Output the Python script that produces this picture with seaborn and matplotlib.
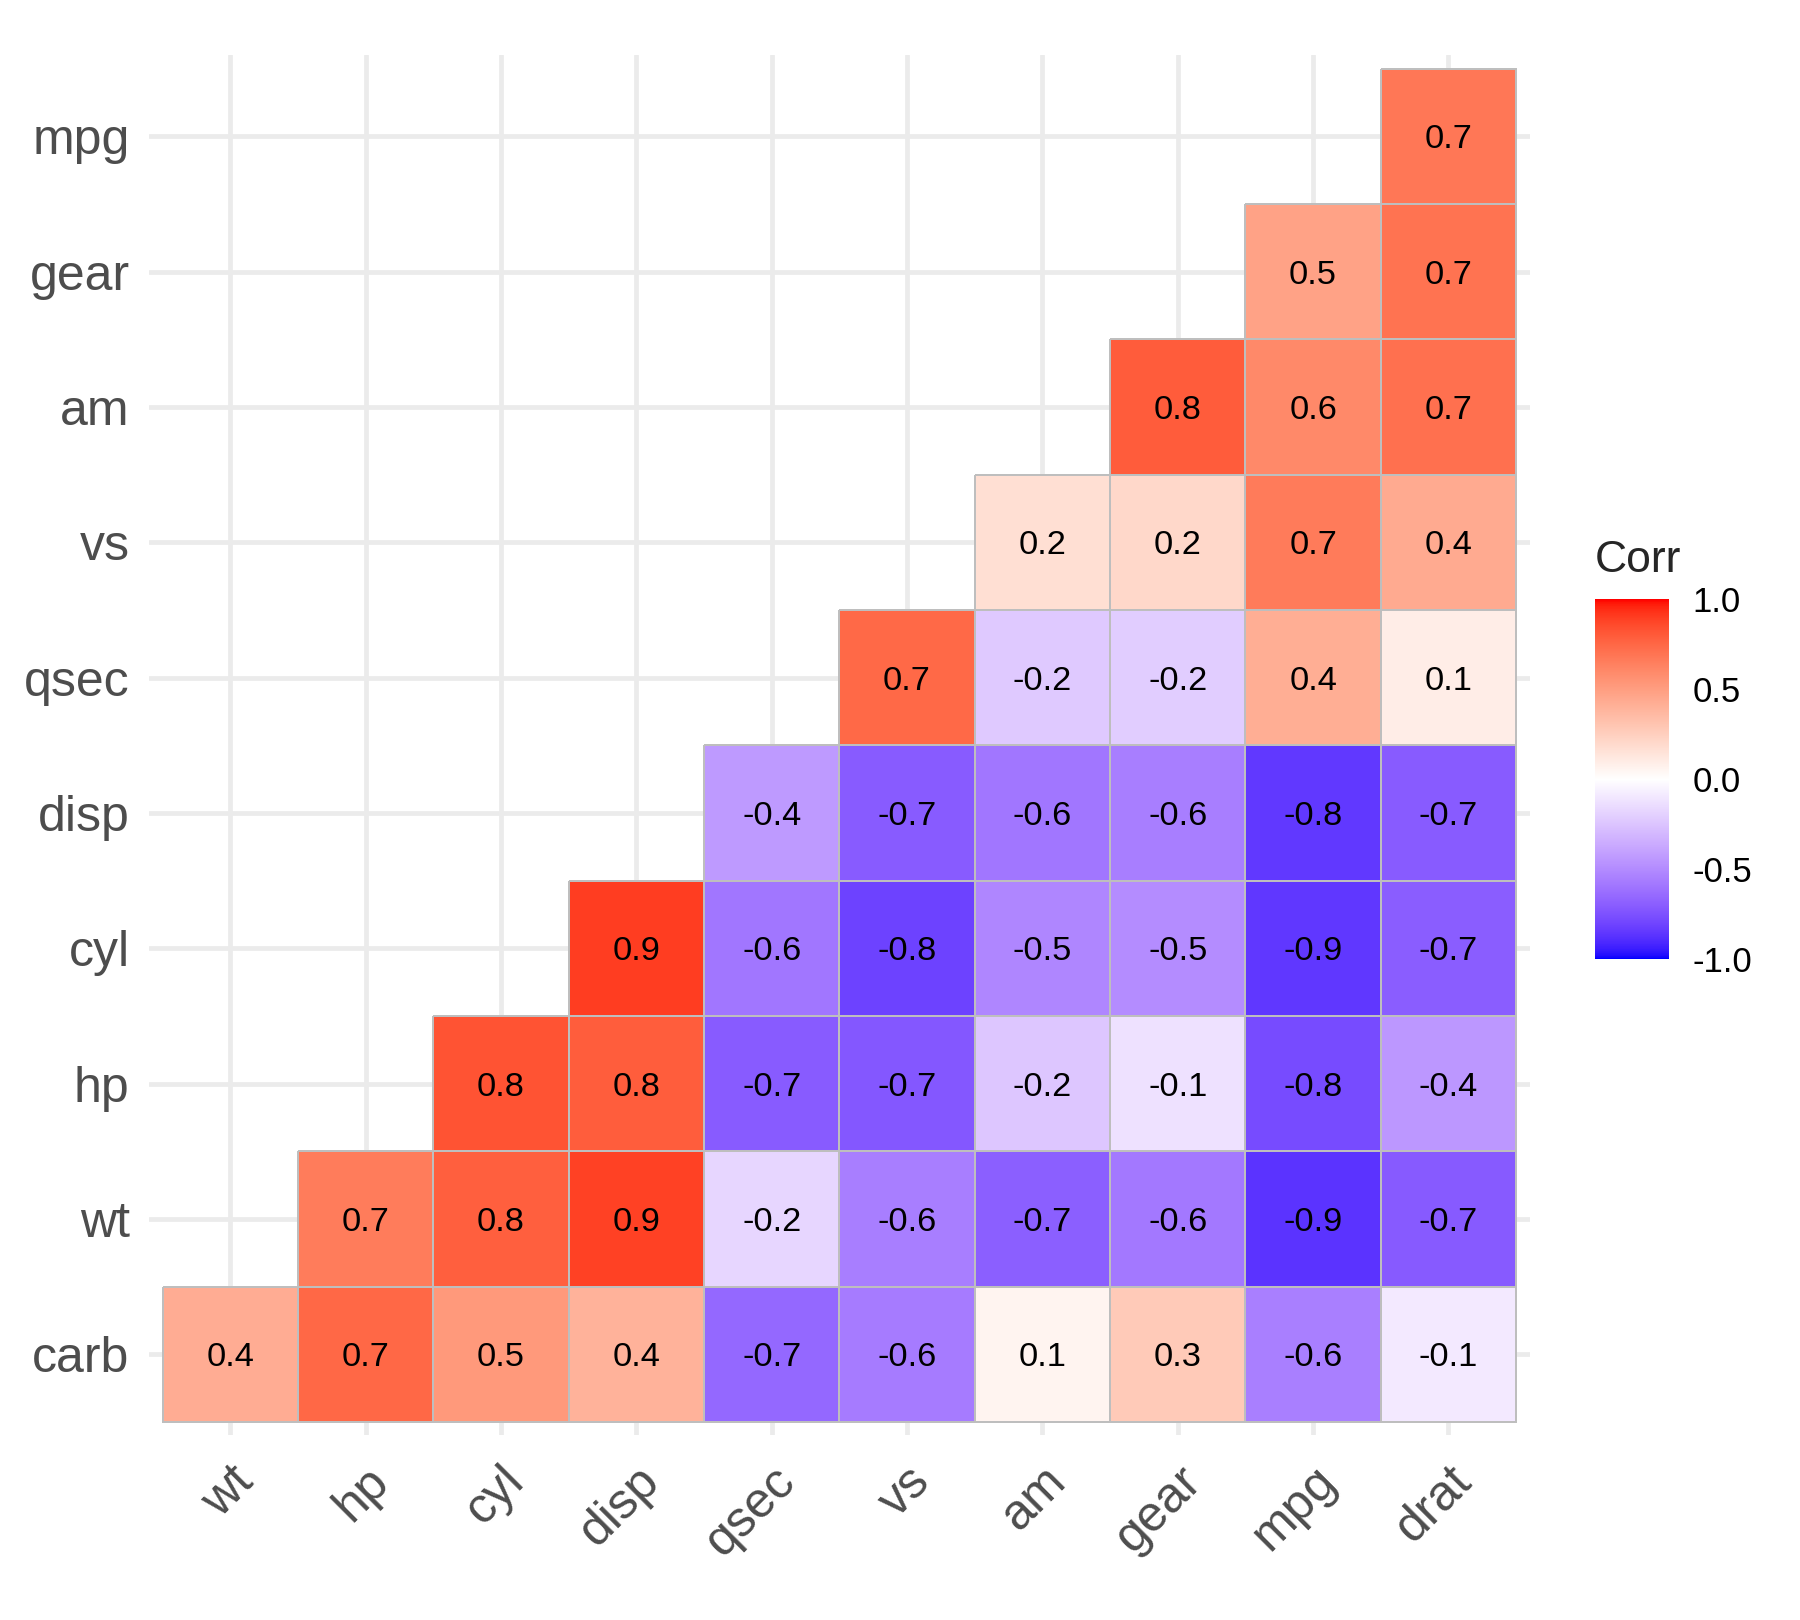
import numpy as np
import pandas as pd
import matplotlib
matplotlib.use('Agg')
import matplotlib.pyplot as plt
from matplotlib.colors import ListedColormap
import seaborn as sns

nan = np.nan

# rows top -> bottom, columns left -> right
rows = ['mpg', 'gear', 'am', 'vs', 'qsec', 'disp', 'cyl', 'hp', 'wt', 'carb']
cols = ['wt', 'hp', 'cyl', 'disp', 'qsec', 'vs', 'am', 'gear', 'mpg', 'drat']

r_mpg = [nan, nan, nan, nan, nan, nan, nan, nan, nan, 0.681]
r_gear = [nan, nan, nan, nan, nan, nan, nan, nan, 0.480, 0.700]
r_am = [nan, nan, nan, nan, nan, nan, nan, 0.794, 0.600, 0.713]
r_vs = [nan, nan, nan, nan, nan, nan, 0.168, 0.206, 0.664, 0.440]
r_qsec = [nan, nan, nan, nan, nan, 0.745, -0.229, -0.213, 0.419, 0.091]
r_disp = [nan, nan, nan, nan, -0.434, -0.710, -0.591, -0.556, -0.848, -0.710]
r_cyl = [nan, nan, nan, 0.902, -0.591, -0.811, -0.523, -0.493, -0.852, -0.700]
r_hp = [nan, nan, 0.832, 0.791, -0.708, -0.723, -0.243, -0.126, -0.776, -0.449]
r_wt = [nan, 0.659, 0.782, 0.888, -0.175, -0.555, -0.692, -0.583, -0.868, -0.712]
r_carb = [0.428, 0.749, 0.527, 0.395, -0.656, -0.570, 0.058, 0.274, -0.551, -0.091]

corr = pd.DataFrame([r_mpg, r_gear, r_am, r_vs, r_qsec, r_disp, r_cyl, r_hp, r_wt, r_carb],
                    index=rows, columns=cols)


# blue - white - red gradient interpolated in Lab space (like ggplot)
def to_lab(rgb):
    c = np.array(rgb, dtype=float)
    lin = np.where(c <= 0.04045, c / 12.92, ((c + 0.055) / 1.055) ** 2.4)
    m = np.array([[0.4124, 0.3576, 0.1805],
                  [0.2126, 0.7152, 0.0722],
                  [0.0193, 0.1192, 0.9505]])
    xyz = m @ lin / np.array([0.95047, 1.0, 1.08883])
    f = np.where(xyz > 0.008856, np.cbrt(xyz), 7.787 * xyz + 16 / 116)
    return np.array([116 * f[1] - 16, 500 * (f[0] - f[1]), 200 * (f[1] - f[2])])


def from_lab(lab):
    L, a, b = lab
    fy = (L + 16) / 116
    fx = fy + a / 500
    fz = fy - b / 200
    f = np.array([fx, fy, fz])
    xyz = np.where(f ** 3 > 0.008856, f ** 3, (f - 16 / 116) / 7.787)
    xyz = xyz * np.array([0.95047, 1.0, 1.08883])
    m = np.array([[3.2406, -1.5372, -0.4986],
                  [-0.9689, 1.8758, 0.0415],
                  [0.0557, -0.2040, 1.0570]])
    lin = np.clip(m @ xyz, 0, 1)
    c = np.where(lin <= 0.0031308, 12.92 * lin, 1.055 * lin ** (1 / 2.4) - 0.055)
    return np.clip(c, 0, 1)


lab_blue, lab_white, lab_red = to_lab([0, 0, 1]), to_lab([1, 1, 1]), to_lab([1, 0, 0])
colors = []
for t in np.linspace(-1, 1, 512):
    if t < 0:
        colors.append(from_lab(lab_white + (lab_blue - lab_white) * (-t)))
    else:
        colors.append(from_lab(lab_white + (lab_red - lab_white) * t))
cmap = ListedColormap(colors)

sns.set_style('white')
plt.rcParams['font.family'] = ['Liberation Sans', 'DejaVu Sans']

fig = plt.figure(figsize=(9, 8.1), dpi=200)
ax = fig.add_axes([0.0828, 0.1139, 0.767, 0.852])
cax = fig.add_axes([0.886, 0.4080, 0.041, 0.222])

sns.heatmap(corr, cmap=cmap, vmin=-1, vmax=1, annot=True, fmt='.1f',
            annot_kws={'size': 12.4, 'color': 'black', 'va': 'center_baseline'},
            linewidths=0.55, linecolor='#BEBEBE', cbar_ax=cax, ax=ax)

# no outline on the empty (upper) cells
mesh = ax.collections[0]
edge = np.array([[0.745, 0.745, 0.745, 1.0]] * corr.size)
edge[np.isnan(corr.values).ravel()] = [0, 0, 0, 0]
mesh.set_edgecolor(edge)

ax.set_xlim(-0.1, 10.1)
ax.set_ylim(10.1, -0.1)
ax.grid(True, color='#EBEBEB', linewidth=1.7)
ax.set_axisbelow(True)
ax.set_xlabel('')
ax.set_ylabel('')
ax.set_xticklabels(cols, rotation=45, ha='right', va='top', rotation_mode='anchor')
ax.set_yticklabels(rows, rotation=0, va='center_baseline')
ax.tick_params(axis='both', length=0, labelsize=18, labelcolor='#4D4D4D')
ax.tick_params(axis='x', pad=8)
ax.tick_params(axis='y', pad=7)

cbar = mesh.colorbar
cbar.outline.set_visible(False)
cbar.set_ticks([-1, -0.5, 0, 0.5, 1])
cbar.set_ticklabels(['-1.0', '-0.5', '0.0', '0.5', '1.0'])
cax.tick_params(direction='in', length=5.4, width=0.8, color='white',
                left=True, right=True, labelsize=12.5, labelcolor='black', pad=8.5)
cax.set_title('Corr', loc='left', fontsize=16, pad=10)

fig.savefig('out.png', dpi=200)
